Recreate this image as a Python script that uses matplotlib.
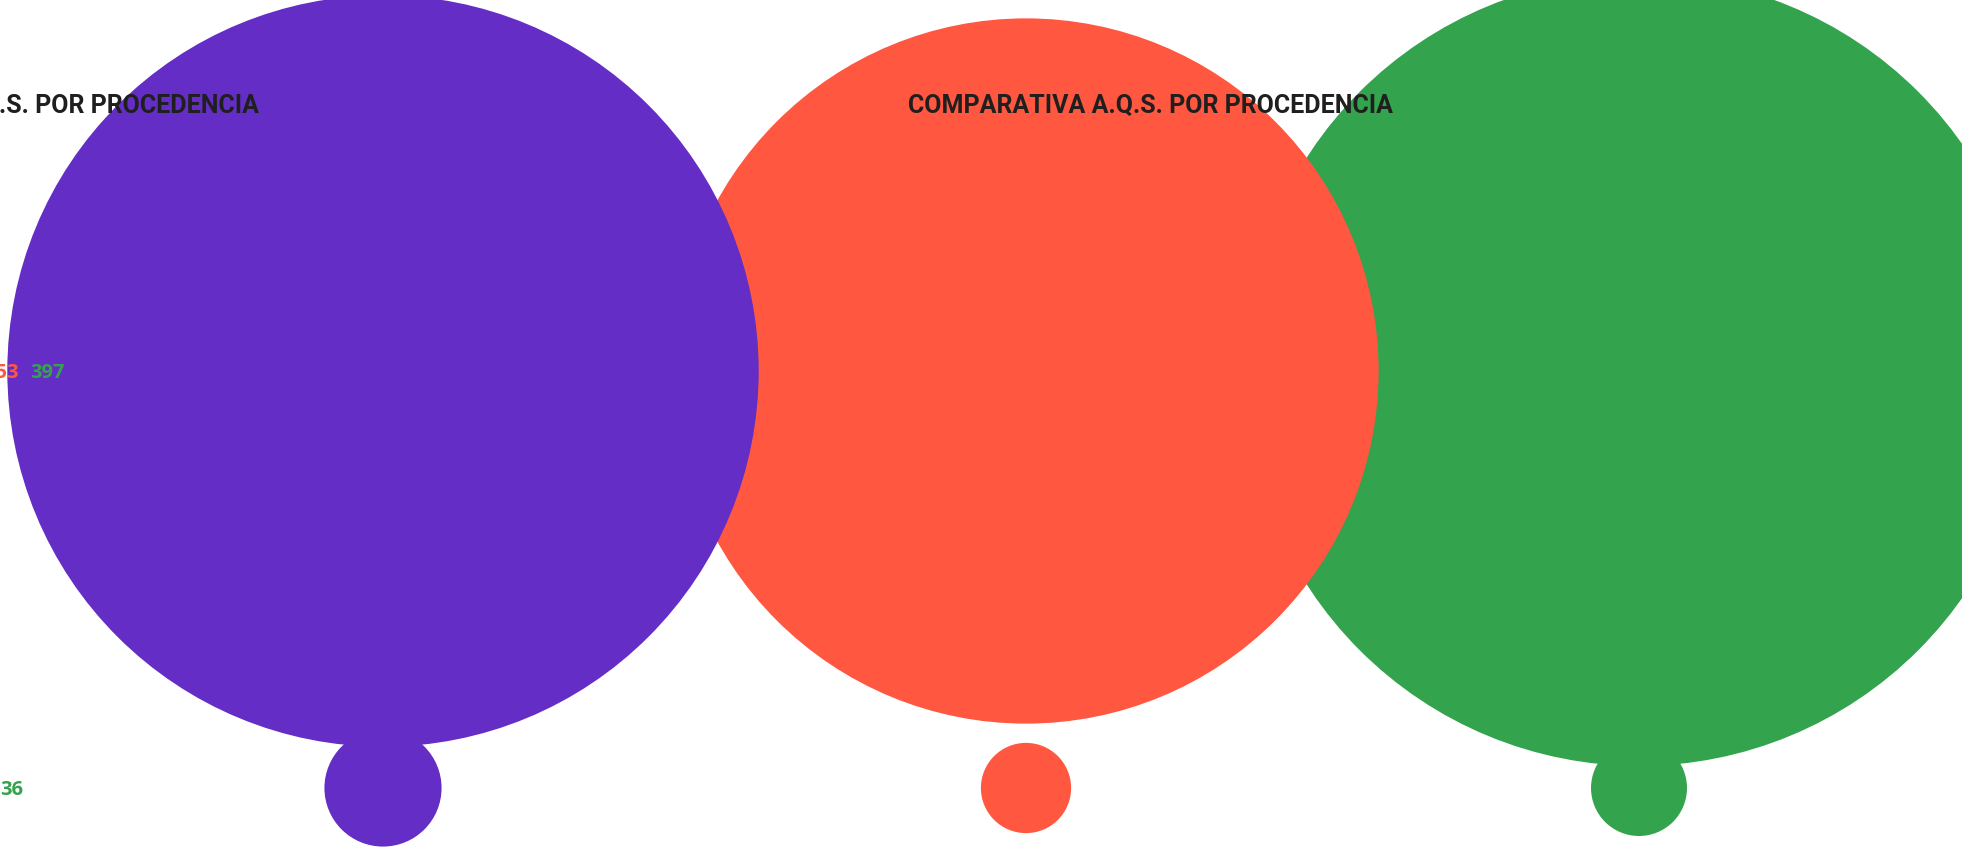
"""Bubble comparison: A.Q.S. por procedencia (three sources, two rows)."""

import matplotlib

matplotlib.use("Agg")
import matplotlib.pyplot as plt
from matplotlib import font_manager
from matplotlib.patches import Circle

# --- data ---
SOURCES = ["A", "B", "C"]
ROW_TOP = [377, 353, 397]
ROW_BOTTOM = [47, 33, 36]
TITLE = "COMPARATIVA A.Q.S. POR PROCEDENCIA"

# --- layout / style ---
W, H = 1962, 849
COLORS = ["#642DC5", "#FF5740", "#33A34D"]
COL_X = [383, 1026, 1639]
ROW_Y = [371, 788]
ZORDER = [4, 3, 2]  # purple over red over green
R0, R_PER_UNIT = 13.4, 0.961  # linear radius scale, px


def radius(v):
    return R0 + R_PER_UNIT * v


names = {f.name for f in font_manager.fontManager.ttflist}
title_font = "Liberation Sans Narrow" if "Liberation Sans Narrow" in names else "Roboto"
num_font = "Open Sans" if "Open Sans" in names else "DejaVu Sans"

fig = plt.figure(figsize=(W / 100, H / 100), dpi=100)
ax = fig.add_axes([0, 0, 1, 1])
ax.set_xlim(0, W)
ax.set_ylim(H, 0)
ax.set_aspect("equal")
ax.axis("off")

for i, (x, c) in enumerate(zip(COL_X, COLORS)):
    for y, vals in zip(ROW_Y, [ROW_TOP, ROW_BOTTOM]):
        ax.add_patch(Circle((x, y), radius(vals[i]), color=c, lw=0, zorder=ZORDER[i]))

# titles (one per panel, the first clipped off the left edge)
for x_end in [259, 1393]:
    ax.text(x_end, 106, TITLE, ha="right", va="center", fontsize=18,
            fontweight="bold", family=title_font, color="#1f1f1f", zorder=10)

# value labels, clipped at the left edge
for y, vals in zip([373, 790], [ROW_TOP, ROW_BOTTOM]):
    x = 65 if y == 373 else 23
    for v, c in zip(reversed(vals), reversed(COLORS)):
        ax.text(x, y, str(v), ha="right", va="center", fontsize=14.5,
                fontweight="bold", family=num_font, color=c, zorder=10)
        x -= 46

fig.savefig("out.png", dpi=100)
